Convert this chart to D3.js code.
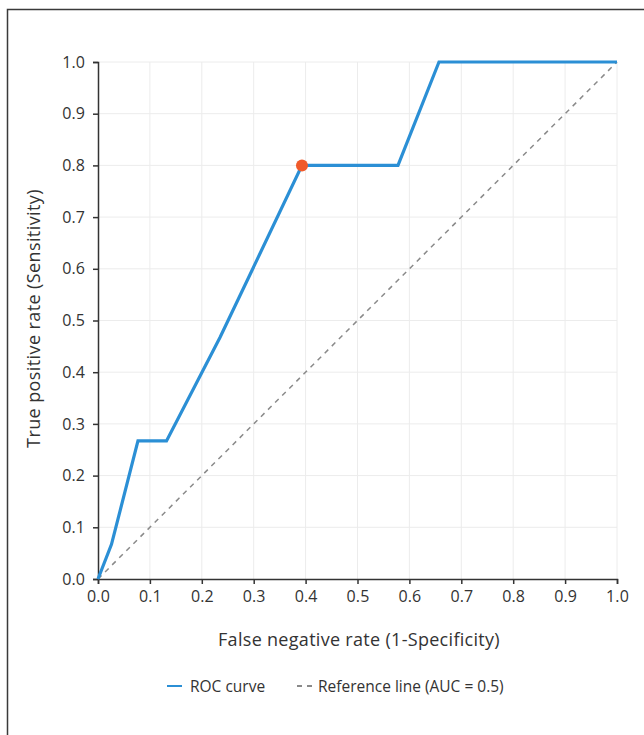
<!DOCTYPE html>
<html lang="en">
<head>
    <meta charset="UTF-8">
    <title>ROC curve</title>
    <script src="https://d3js.org/d3.v7.min.js"></script>
    <style>
        body { margin: 0; background: #fff; font-family: 'Open Sans', 'Noto Sans', sans-serif; }
        svg text { font-family: 'Open Sans', 'Noto Sans', sans-serif; }
    </style>
</head>
<body>
    <svg id="chart" width="644" height="735"></svg>
    <script>
        // valeurs
        const rocX = [0, 0.026, 0.077, 0.132, 0.235, 0.393, 0.578, 0.657, 1.0];
        const rocY = [0, 0.067, 0.267, 0.267, 0.467, 0.8, 0.8, 1.0, 1.0];
        const refX = [0, 1];
        const refY = [0, 1];
        const optimal = [0.393, 0.8];
        const ticks = [0, 0.1, 0.2, 0.3, 0.4, 0.5, 0.6, 0.7, 0.8, 0.9, 1.0];

        const svg = d3.select("#chart");
        const plotL = 98, plotR = 617, plotT = 62, plotB = 579;

        const x = d3.scaleLinear().domain([0, 1]).range([plotL, plotR]);
        const y = d3.scaleLinear().domain([0, 1]).range([plotB, plotT]);

        // cadre (seulement haut et gauche visibles)
        svg.append("path")
            .attr("d", "M7.5,735 V9.5 H644")
            .attr("fill", "none")
            .attr("stroke", "#3a3a3a")
            .attr("stroke-width", 1.5);

        // grille
        svg.append("g").selectAll("line").data(ticks.slice(1)).join("line")
            .attr("x1", d => x(d)).attr("x2", d => x(d))
            .attr("y1", plotT).attr("y2", plotB)
            .attr("stroke", "#ececec").attr("stroke-width", 1);
        svg.append("g").selectAll("line").data(ticks.slice(1)).join("line")
            .attr("x1", plotL).attr("x2", plotR)
            .attr("y1", d => y(d)).attr("y2", d => y(d))
            .attr("stroke", "#ececec").attr("stroke-width", 1);

        // axes
        const fmt = d3.format(".1f");
        const xAxis = svg.append("g")
            .attr("transform", `translate(0,${plotB})`)
            .call(d3.axisBottom(x).tickValues(ticks).tickFormat(fmt).tickSize(5).tickSizeOuter(5).tickPadding(7));
        const yAxis = svg.append("g")
            .attr("transform", `translate(${plotL},0)`)
            .call(d3.axisLeft(y).tickValues(ticks).tickFormat(fmt).tickSize(5).tickSizeOuter(5).tickPadding(8));

        [xAxis, yAxis].forEach(a => {
            a.select(".domain").attr("stroke", "#333").attr("stroke-width", 1.5);
            a.selectAll(".tick line").attr("stroke", "#333").attr("stroke-width", 1.5);
            a.selectAll(".tick text").attr("fill", "#333")
                .style("font-size", "16px")
                .style("letter-spacing", "0.1px")
                .style("font-family", "'Open Sans', 'Noto Sans', sans-serif");
        });

        // ligne de référence
        svg.append("line")
            .attr("x1", x(refX[0])).attr("y1", y(refY[0]))
            .attr("x2", x(refX[1])).attr("y2", y(refY[1]))
            .attr("stroke", "#8a8a8a")
            .attr("stroke-width", 1.5)
            .attr("stroke-dasharray", "5,5");

        // courbe ROC
        const line = d3.line().x(d => x(d[0])).y(d => y(d[1]));
        svg.append("path")
            .datum(rocX.map((v, i) => [v, rocY[i]]))
            .attr("d", line)
            .attr("fill", "none")
            .attr("stroke", "#2b8fd5")
            .attr("stroke-width", 3.2)
            .attr("stroke-linejoin", "miter");

        svg.append("circle")
            .attr("cx", x(optimal[0])).attr("cy", y(optimal[1]))
            .attr("r", 6)
            .attr("fill", "#f05a2a");

        // titres des axes
        svg.append("text")
            .attr("x", 359).attr("y", 646)
            .attr("text-anchor", "middle")
            .attr("fill", "#333")
            .style("font-size", "18px")
            .style("letter-spacing", "0.3px")
            .text("False negative rate (1-Specificity)");

        svg.append("text")
            .attr("transform", `translate(40,${(plotT + plotB) / 2 - 2}) rotate(-90)`)
            .attr("text-anchor", "middle")
            .attr("fill", "#333")
            .style("font-size", "18px")
            .style("letter-spacing", "0.4px")
            .text("True positive rate (Sensitivity)");

        // légende
        const leg = svg.append("g").attr("transform", "translate(0,686)");
        leg.append("line").attr("x1", 167).attr("x2", 182).attr("y1", 0).attr("y2", 0)
            .attr("stroke", "#2b8fd5").attr("stroke-width", 2);
        leg.append("text").attr("x", 190).attr("y", 5.5).attr("fill", "#333")
            .style("font-size", "15.5px").text("ROC curve");
        leg.append("line").attr("x1", 297).attr("x2", 312).attr("y1", 0).attr("y2", 0)
            .attr("stroke", "#8a8a8a").attr("stroke-width", 2).attr("stroke-dasharray", "5,5");
        leg.append("text").attr("x", 318).attr("y", 5.5).attr("fill", "#333")
            .style("font-size", "15.5px").text("Reference line (AUC = 0.5)");
    </script>
</body>
</html>
